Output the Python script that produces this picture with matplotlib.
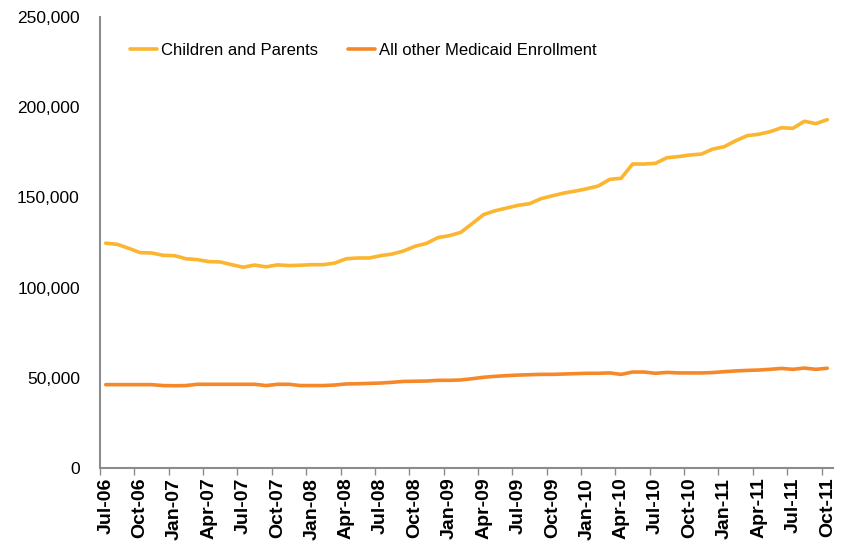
import matplotlib
matplotlib.use("Agg")
import matplotlib.pyplot as plt
from matplotlib.ticker import FuncFormatter

plt.rcParams['font.family'] = ['Liberation Sans', 'DejaVu Sans']

# Monthly enrollment, Jul-06 through Oct-11
months = [
    "Jul-06", "Aug-06", "Sep-06", "Oct-06", "Nov-06", "Dec-06",
    "Jan-07", "Feb-07", "Mar-07", "Apr-07", "May-07", "Jun-07",
    "Jul-07", "Aug-07", "Sep-07", "Oct-07", "Nov-07", "Dec-07",
    "Jan-08", "Feb-08", "Mar-08", "Apr-08", "May-08", "Jun-08",
    "Jul-08", "Aug-08", "Sep-08", "Oct-08", "Nov-08", "Dec-08",
    "Jan-09", "Feb-09", "Mar-09", "Apr-09", "May-09", "Jun-09",
    "Jul-09", "Aug-09", "Sep-09", "Oct-09", "Nov-09", "Dec-09",
    "Jan-10", "Feb-10", "Mar-10", "Apr-10", "May-10", "Jun-10",
    "Jul-10", "Aug-10", "Sep-10", "Oct-10", "Nov-10", "Dec-10",
    "Jan-11", "Feb-11", "Mar-11", "Apr-11", "May-11", "Jun-11",
    "Jul-11", "Aug-11", "Sep-11", "Oct-11",
]

children_parents = [
    124600, 124000, 121800, 119400, 119200, 117900,
    117700, 116000, 115500, 114400, 114200, 112700,
    111300, 112500, 111500, 112600, 112200, 112400,
    112700, 112700, 113600, 116000, 116400, 116400,
    117700, 118600, 120300, 122900, 124500, 127700,
    128800, 130600, 135500, 140500, 142600, 144100,
    145600, 146500, 149300, 150900, 152400, 153500,
    154800, 156300, 160000, 160600, 168500, 168500,
    168900, 172000, 172600, 173500, 174000, 176800,
    178100, 181400, 184200, 185000, 186400, 188600,
    188300, 192200, 190900, 193100,
]

all_other = [
    46200, 46200, 46200, 46200, 46200, 45700,
    45600, 45700, 46400, 46400, 46400, 46400,
    46400, 46400, 45700, 46400, 46400, 45700,
    45700, 45700, 46000, 46600, 46700, 46900,
    47100, 47500, 48000, 48100, 48200, 48600,
    48600, 48800, 49500, 50300, 50800, 51200,
    51500, 51700, 51900, 51900, 52100, 52300,
    52500, 52500, 52700, 51900, 53200, 53200,
    52500, 53000, 52700, 52700, 52700, 52900,
    53400, 53800, 54100, 54300, 54700, 55200,
    54700, 55400, 54700, 55300,
]

series_names = ["Children and Parents", "All other Medicaid Enrollment"]
y_ticks = [0, 50000, 100000, 150000, 200000, 250000]

color_cp = "#FBB52F"
color_other = "#F5892A"
axis_gray = "#8C8C8C"

fig = plt.figure(figsize=(8.44, 5.41), dpi=100)
ax = fig.add_axes([100 / 844, 1 - 468 / 541, 733 / 844, 451 / 541])

x = list(range(len(months)))
ax.plot(x, children_parents, color=color_cp, lw=2.6, label=series_names[0],
        solid_joinstyle="round", solid_capstyle="round")
ax.plot(x, all_other, color=color_other, lw=2.6, label=series_names[1],
        solid_joinstyle="round", solid_capstyle="round")

ax.set_xlim(-0.5, len(months) - 0.5)
ax.set_ylim(0, 250000)

# Tick marks sit on category boundaries; labels sit at category centres
label_idx = list(range(0, len(months), 3))
ax.set_xticks([i - 0.5 for i in label_idx])
ax.set_xticklabels([])
ax.set_xticks(label_idx, minor=True)
ax.set_xticklabels([months[i] for i in label_idx], minor=True,
                   rotation=90, fontsize=14, fontweight="bold",
                   va="top", ha="center")
ax.tick_params(axis="x", which="major", length=5, width=1, color=axis_gray,
               direction="out")
ax.tick_params(axis="x", which="minor", length=0, pad=7)

ax.set_yticks(y_ticks)
ax.yaxis.set_major_formatter(FuncFormatter(lambda v, p: f"{int(v):,}"))
ax.tick_params(axis="y", length=0, pad=14.5, labelsize=12.5)

for side in ("top", "right"):
    ax.spines[side].set_visible(False)
for side in ("left", "bottom"):
    ax.spines[side].set_color(axis_gray)
    ax.spines[side].set_linewidth(1.5)

ax.legend(loc="upper left", bbox_to_anchor=(0.021, 0.975), ncol=2,
          frameon=False, fontsize=12, handlelength=1.6, handletextpad=0.25,
          columnspacing=1.8)

fig.savefig("out.png", dpi=100)
